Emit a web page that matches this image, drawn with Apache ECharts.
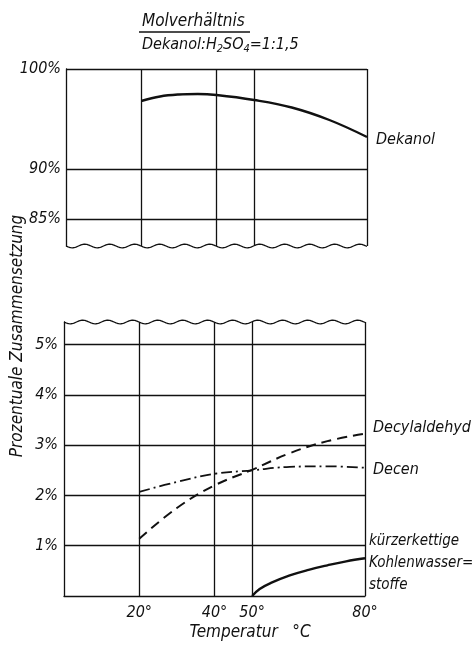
<!DOCTYPE html>
<html><head><meta charset="utf-8">
<script src="https://cdn.jsdelivr.net/npm/echarts@6/dist/echarts.min.js"></script>
<style>html,body{margin:0;padding:0;background:#fff}#c{width:473px;height:645px}</style>
</head><body><div id="c"></div>
<script>
// ---- data ----
const temps = [20, 25, 30, 35, 40, 50, 60, 70, 80];
const dekanol = [96.8, 97.25, 97.45, 97.5, 97.4, 96.9, 96.15, 94.9, 93.2];
const decylTemps = [20, 30, 40, 50, 60, 70, 80];
const decylaldehyd = [1.14, 1.75, 2.2, 2.51, 2.84, 3.08, 3.23];
const decenTemps = [20, 30, 40, 50, 60, 70, 80];
const decen = [2.07, 2.27, 2.43, 2.5, 2.57, 2.58, 2.55];
const kohlTemps = [50, 52, 55, 60, 65, 70, 75, 80];
const kohlenwasserstoffe = [0.0, 0.14, 0.26, 0.41, 0.52, 0.61, 0.69, 0.75];
const xGridLines = [20, 40, 50];
const xTickLabels = [20, 40, 50, 80];
const topTickLabels = [85, 90, 100];
const topGridLines = [85, 90];
const bottomTickLabels = [1, 2, 3, 4, 5];
const seriesNames = ['Dekanol', 'Decylaldehyd', 'Decen', 'kürzerkettige\nKohlenwasser=\nstoffe'];

const FONT = 'DejaVu Sans Condensed';
const FS = 16;
const txt = {fontFamily: FONT, fontStyle: 'italic', fontSize: FS, color: '#111'};
const chart = echarts.init(document.getElementById('c'), null, {renderer: 'canvas'});

const zip = (xs, ys) => xs.map((x, i) => [x, ys[i]]);
const vLines = (extra) => xGridLines.concat(extra).map(v => ({xAxis: v}));
const mlBase = {silent: true, symbol: 'none', label: {show: false},
  lineStyle: {color: '#111', width: 1.3, type: 'solid'}};

const option = {
  animation: false,
  backgroundColor: '#fff',
  grid: [
    {left: 66, right: 106, top: 69, height: 177},
    {left: 64, right: 108, top: 322, bottom: 49}
  ],
  xAxis: [
    {gridIndex: 0, type: 'value', min: 0, max: 80, show: false},
    {gridIndex: 1, type: 'value', min: 0, max: 80, interval: 10,
      axisLine: {show: true, lineStyle: {color: '#111', width: 1.3}},
      axisTick: {show: false}, splitLine: {show: false},
      axisLabel: {show: true, customValues: xTickLabels, formatter: v => v + '°',
        ...txt, margin: 9}
    }
  ],
  yAxis: [
    {gridIndex: 0, type: 'value', min: 82.3, max: 100,
      axisLine: {show: true, lineStyle: {color: '#111', width: 1.3}},
      axisTick: {show: false}, splitLine: {show: false},
      axisLabel: {customValues: topTickLabels, formatter: v => v + '%', margin: 5, ...txt}
    },
    {gridIndex: 1, type: 'value', min: 0, max: 5.45,
      axisLine: {show: true, lineStyle: {color: '#111', width: 1.3}},
      axisTick: {show: false}, splitLine: {show: false},
      axisLabel: {customValues: bottomTickLabels, formatter: v => v + '%', margin: 6, ...txt}
    }
  ],
  series: [
    {type: 'line', xAxisIndex: 0, yAxisIndex: 0, name: seriesNames[0],
      data: zip(temps, dekanol), smooth: 0.4, symbol: 'none',
      lineStyle: {color: '#111', width: 2.4},
      endLabel: {show: true, formatter: p => p.seriesName, ...txt, offset: [1, 3]},
      markLine: {...mlBase, data: vLines([80]).concat(topGridLines.map(v => ({yAxis: v}))).concat([{yAxis: 100}])}
    },
    {type: 'line', xAxisIndex: 1, yAxisIndex: 1, name: seriesNames[1],
      data: zip(decylTemps, decylaldehyd), smooth: 0.4, symbol: 'none',
      lineStyle: {color: '#111', width: 2, type: [10, 6]},
      endLabel: {show: true, formatter: p => p.seriesName, ...txt, offset: [0, -6]},
      markLine: {...mlBase, data: vLines([80]).concat(bottomTickLabels.map(v => ({yAxis: v})))}
    },
    {type: 'line', xAxisIndex: 1, yAxisIndex: 1, name: seriesNames[2],
      data: zip(decenTemps, decen), smooth: 0.4, symbol: 'none',
      lineStyle: {color: '#111', width: 1.8, type: [11, 4, 2, 4]},
      endLabel: {show: true, formatter: p => p.seriesName, ...txt, offset: [0, 2]}
    },
    {type: 'line', xAxisIndex: 1, yAxisIndex: 1, name: seriesNames[3],
      data: zip(kohlTemps, kohlenwasserstoffe), smooth: 0.4, symbol: 'none',
      lineStyle: {color: '#111', width: 2.4},
      endLabel: {show: true, formatter: p => p.seriesName, ...txt, fontSize: 15, lineHeight: 22,
        distance: 4, offset: [0, 5]}
    }
  ]
};
chart.setOption(option);

// decorative break marks (wavy edges) and titles
function wave(x0, x1, y) {
  const pts = [];
  for (let x = x0; x <= x1; x += 1) pts.push([x, y + 1.8 * Math.sin((x - x0) / 25 * 2 * Math.PI)]);
  return pts;
}
const topLeft = chart.convertToPixel({gridIndex: 0}, [0, 82.3]);
const topRight = chart.convertToPixel({gridIndex: 0}, [80, 82.3]);
const botLeft = chart.convertToPixel({gridIndex: 1}, [0, 5.45]);
const botRight = chart.convertToPixel({gridIndex: 1}, [80, 5.45]);
const F = (s) => 'italic ' + s + 'px "' + FONT + '"';
chart.setOption({
  graphic: [
    {type: 'polyline', shape: {points: wave(topLeft[0], topRight[0], topLeft[1])},
      style: {stroke: '#111', lineWidth: 1.3, fill: null}, silent: true},
    {type: 'polyline', shape: {points: wave(botLeft[0], botRight[0], botLeft[1])},
      style: {stroke: '#111', lineWidth: 1.3, fill: null}, silent: true},
    {type: 'text', x: 142, y: 22, style: {text: 'Molverhältnis', font: F(17), fill: '#111', verticalAlign: 'middle'}},
    {type: 'line', shape: {x1: 139, y1: 32, x2: 250, y2: 32}, style: {stroke: '#111', lineWidth: 1.4}},
    {type: 'text', x: 142, y: 45, style: {rich: {n: {fontFamily: FONT, fontStyle: 'italic', fontSize: 16, fill: '#111'},
      s: {fontFamily: FONT, fontStyle: 'italic', fontSize: 11, fill: '#111', padding: [9, 0, 0, 0]}},
      text: '{n|Dekanol:H}{s|2}{n|SO}{s|4}{n|=1:1,5}', verticalAlign: 'middle'}},
    {type: 'text', x: 18, y: 336, rotation: Math.PI / 2,
      style: {text: 'Prozentuale Zusammensetzung', font: F(17), fill: '#111',
        align: 'center', verticalAlign: 'middle'}},
    {type: 'text', x: 250, y: 633,
      style: {text: 'Temperatur   °C', font: F(17), fill: '#111',
        align: 'center', verticalAlign: 'middle'}}
  ]
});
</script></body></html>
